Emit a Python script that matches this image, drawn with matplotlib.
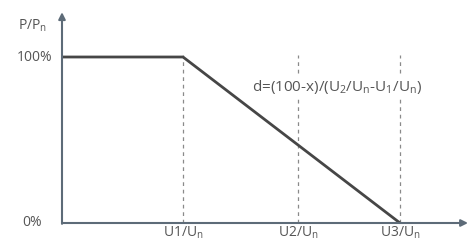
import matplotlib
matplotlib.use("Agg")
import matplotlib.pyplot as plt

# data
u_labels = ["U1/U$\\mathregular{_n}$", "U2/U$\\mathregular{_n}$", "U3/U$\\mathregular{_n}$"]
u_pos = [1.21, 2.36, 3.38]
curve_x = [0.0, 1.21, 3.38]
curve_y = [100, 100, 0]
y_ticks = [0, 100]
y_tick_labels = ["0%", "100%"]
y_label_x = [-0.2, -0.1]
formula = "d=(100-x)/(U$\\mathregular{_2}$/U$\\mathregular{_n}$-U$\\mathregular{_1}$/U$\\mathregular{_n}$)"

plt.rcParams['font.family'] = ['Open Sans', 'DejaVu Sans']
plt.rcParams['mathtext.fontset'] = 'custom'
plt.rcParams['mathtext.rm'] = 'Open Sans'

fig = plt.figure(figsize=(4.7, 2.41), dpi=100)
ax = fig.add_axes([0, 0, 1, 1])
ax.set_xlim(-0.62, 4.08)
ax.set_ylim((223 - 241) / 1.66, 223 / 1.66)
ax.axis('off')

txt = '#555555'
axc = '#5d6b78'

# dashed guides
for xp in u_pos:
    ax.plot([xp, xp], [0, 101], ls=(0, (3, 3)), color='#8a8a8a', lw=0.9, zorder=1)

# curve
ax.plot(curve_x, curve_y, color='#464646', lw=2.0, zorder=3, solid_capstyle='butt')

# axes arrows
ax.annotate('', xy=(4.06, 0), xytext=(0, 0),
            arrowprops=dict(arrowstyle='-|>', color=axc, lw=1.5, mutation_scale=10, shrinkA=0, shrinkB=0), zorder=4)
ax.annotate('', xy=(0, 127), xytext=(0, -0.5),
            arrowprops=dict(arrowstyle='-|>', color=axc, lw=1.5, mutation_scale=10, shrinkA=0, shrinkB=0), zorder=4)

# tick labels
for xl, yv, lab in zip(y_label_x, y_ticks, y_tick_labels):
    ax.text(xl, yv, lab, ha='right', va='center', fontsize=10, color=txt)
for xp, lab in zip(u_pos, u_labels):
    ax.text(xp, (223 - 233) / 1.66, lab, ha='center', va='center', fontsize=10, color=txt)

ax.text(-0.44, 119, "P/P$\\mathregular{_n}$", ha='left', va='center', fontsize=10, color=txt)
ax.text(1.90, 82, formula, ha='left', va='center', fontsize=11, color=txt,
        bbox=dict(facecolor='white', edgecolor='none', pad=1))

fig.savefig('out.png', dpi=100)
